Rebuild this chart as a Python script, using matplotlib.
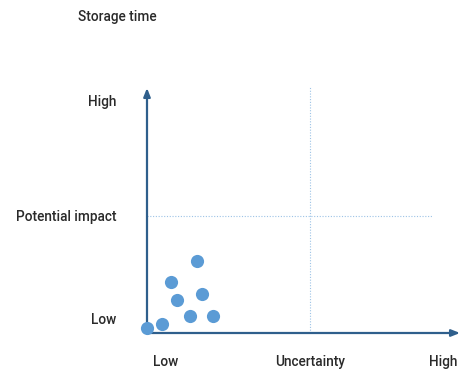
import matplotlib.pyplot as plt

# Puntos del diagrama (incertidumbre, impacto potencial)
uncertainty = [0.0, 0.48, 1.37, 2.11, 0.96, 1.76, 0.77, 1.60]
impact = [0.20, 0.37, 0.69, 0.69, 1.35, 1.59, 2.08, 2.94]

x_labels = ['Low', 'Uncertainty', 'High']
x_label_pos = [0.61, 5.2, 9.46]
y_labels = ['Low', 'Potential impact', 'High']
y_label_pos = [0.53, 4.73, 9.43]

axis_color = '#2f5f8c'
text_color = '#2a2a2a'
font = dict(family='Roboto', fontsize=9.8, weight='medium', color=text_color)

fig = plt.figure(figsize=(4.67, 3.77), dpi=100)
ax = fig.add_axes([147/467, 44/377, 313/467, 245/377])
ax.set_xlim(0, 10)
ax.set_ylim(0, 10)
ax.axis('off')

# Lineas guia punteadas
ax.plot([5.2, 5.2], [0, 10.1], ls=(0, (1, 1.5)), lw=0.8, color='#9dc3e6', clip_on=False)
ax.plot([0, 9.15], [4.78, 4.78], ls=(0, (1, 1.5)), lw=0.8, color='#9dc3e6', clip_on=False)

# Ejes con flecha
ax.annotate('', xy=(0, 10), xytext=(0, 0),
            arrowprops=dict(arrowstyle='-|>,head_length=0.5,head_width=0.2',
                            color=axis_color, lw=1.6, shrinkA=0, shrinkB=0))
ax.annotate('', xy=(10, 0), xytext=(0, 0),
            arrowprops=dict(arrowstyle='-|>,head_length=0.5,head_width=0.2',
                            color=axis_color, lw=1.6, shrinkA=0, shrinkB=0))

ax.scatter(uncertainty, impact, s=90, color='#5b9bd5', zorder=3, clip_on=False, linewidths=0)

for lab, p in zip(x_labels, x_label_pos):
    ax.text(p, -1.18, lab, ha='center', va='center', **font)
for lab, p in zip(y_labels, y_label_pos):
    ax.text(-0.98, p, lab, ha='right', va='center', **font)
ax.text(-0.96, 12.9, 'Storage time', ha='center', va='center', **font)

plt.savefig('out.png', dpi=100)
plt.close('all')
